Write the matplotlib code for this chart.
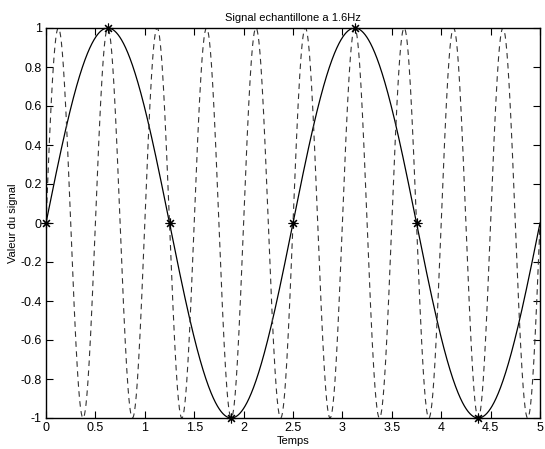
import numpy as np
import matplotlib
matplotlib.use('Agg')
import matplotlib.pyplot as plt

plt.rcParams['font.family'] = ['Liberation Sans', 'DejaVu Sans']

# signal parameters
f_signal = 0.4      # Hz, solid curve
f_alias = 2.0       # Hz, dashed curve
f_sample = 1.6      # Hz
t_end = 5.0
n_samples = 8

t = np.linspace(0, t_end, 2001)
y_signal = np.sin(2 * np.pi * f_signal * t)
y_alias = np.sin(2 * np.pi * f_alias * t)
t_samp = np.arange(n_samples) / f_sample
y_samp = np.sin(2 * np.pi * f_signal * t_samp)

xticks = [0, 0.5, 1, 1.5, 2, 2.5, 3, 3.5, 4, 4.5, 5]
xticklabels = ['0', '0.5', '1', '1.5', '2', '2.5', '3', '3.5', '4', '4.5', '5']
yticks = [-1, -0.8, -0.6, -0.4, -0.2, 0, 0.2, 0.4, 0.6, 0.8, 1]
yticklabels = ['-1', '-0.8', '-0.6', '-0.4', '-0.2', '0', '0.2', '0.4', '0.6', '0.8', '1']

fig = plt.figure(figsize=(5.45, 4.49), dpi=100)
ax = fig.add_axes([46 / 545, 31 / 449, 494 / 545, 390 / 449])

ax.plot(t, y_signal, 'k-', lw=0.9)
ax.plot(t, y_alias, color='0.2', ls='--', lw=0.8, dashes=(5, 4))
ax.plot(t_samp, y_samp, ls='none', color='k', marker=(8, 2, 0), ms=7,
        mew=0.8, clip_on=False)

ax.set_xlim(0, t_end)
ax.set_ylim(-1, 1)
ax.set_xticks(xticks)
ax.set_xticklabels(xticklabels)
ax.set_yticks(yticks)
ax.set_yticklabels(yticklabels)
ax.tick_params(direction='in', top=True, right=True, length=5, width=0.8,
               labelsize=9, pad=3)
for s in ax.spines.values():
    s.set_linewidth(1.0)

ax.set_title('Signal echantillone a 1.6Hz', fontsize=8, pad=5)
ax.set_xlabel('Temps', fontsize=8, labelpad=1)
ax.set_ylabel('Valeur du signal', fontsize=8, labelpad=2)

fig.savefig('out.png', dpi=100)
